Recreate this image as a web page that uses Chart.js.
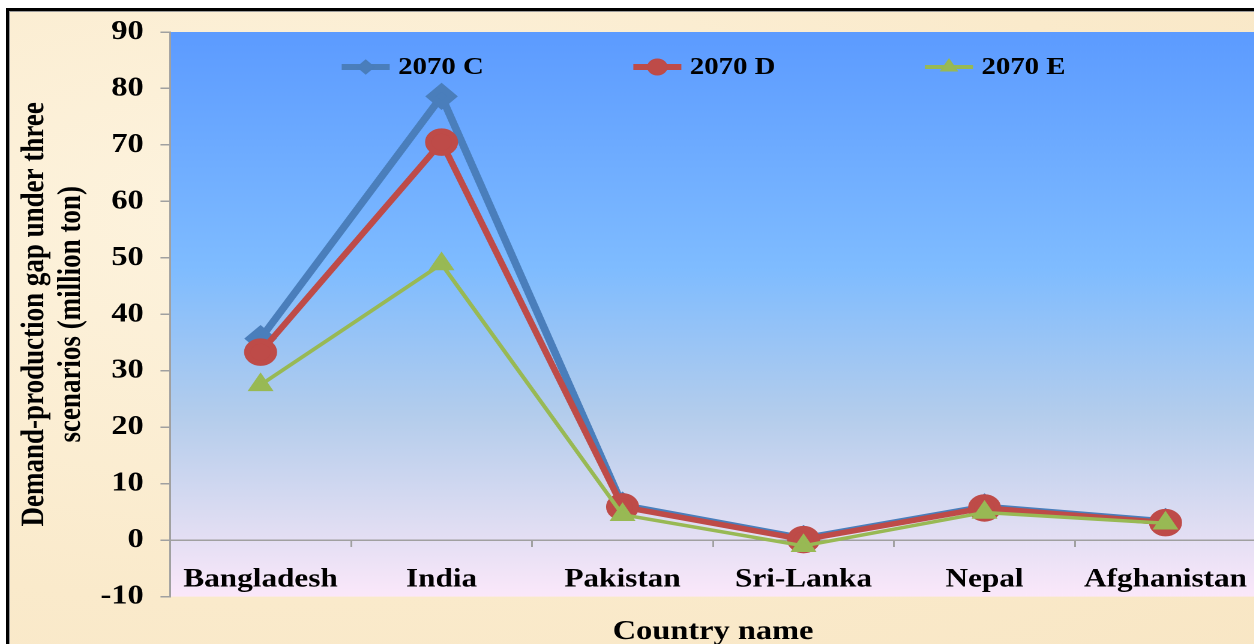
<!DOCTYPE html>
<html>
<head>
<meta charset="utf-8">
<script src="https://cdn.jsdelivr.net/npm/chart.js@4.4.0/dist/chart.umd.min.js"></script>
<style>
  html, body { margin: 0; padding: 0; background: #fff; overflow: hidden; width: 1254px; height: 644px; }
  .frame {
    position: absolute; left: 6px; top: 8px; width: 1280px; height: 660px;
    border-top: 3px solid #000; border-left: 3px solid #000;
    box-shadow: inset 1px 1px 0 #9a9a9a;
    background: radial-gradient(ellipse at 20% 30%, #fdf3de 0%, #faeacb 60%, #f8e6c4 100%);
  }
  #c { position: absolute; left: 9px; top: 11px; }
</style>
</head>
<body>
<div class="frame"></div>
<!-- the source picture is stretched sideways ~1.2x, so the canvas is too (inline style keeps Chart.js from resetting it) -->
<canvas id="c" width="1039" height="650" style="width:1247px;height:650px"></canvas>
<script>
const countries = ['Bangladesh', 'India', 'Pakistan', 'Sri-Lanka', 'Nepal', 'Afghanistan'];
const gap2070C = [35.7, 78.6, 6.2, 0.3, 5.9, 3.3];
const gap2070D = [33.3, 70.5, 5.9, 0.1, 5.7, 3.1];
const gap2070E = [27.5, 48.9, 4.5, -1.0, 4.9, 3.0];
const yTicks = { min: -10, max: 90, step: 10 };

const serif = "'Liberation Serif', 'Times New Roman', serif";

// plot area gradient (blue at top fading to pale pink)
const plotBg = {
  id: 'plotBg',
  beforeDraw(chart) {
    const { ctx, chartArea: a } = chart;
    const g = ctx.createLinearGradient(0, a.top, 0, a.bottom);
    g.addColorStop(0, '#5c9bff');
    g.addColorStop(0.42, '#7fbcff');
    g.addColorStop(0.68, '#b4cdec');
    g.addColorStop(0.86, '#dcdcf2');
    g.addColorStop(1, '#fbe8fa');
    ctx.save();
    ctx.fillStyle = g;
    ctx.fillRect(a.left, a.top, a.right - a.left, a.bottom - a.top);
    ctx.restore();
  }
};

// legend sits inside the plot, spread across the top
const insideLegend = {
  id: 'insideLegend',
  afterDraw(chart) {
    const { ctx, chartArea: a } = chart;
    const y = a.top + 35;
    chart.data.datasets.forEach((ds, i) => {
      const x = a.left + 143 + i * 243;
      ctx.save();
      ctx.strokeStyle = ds.borderColor;
      ctx.fillStyle = ds.borderColor;
      ctx.lineWidth = ds.legendWidth;
      ctx.beginPath();
      ctx.moveTo(x, y);
      ctx.lineTo(x + 40, y);
      ctx.stroke();
      ctx.lineWidth = 1;
      Chart.helpers.drawPoint(ctx, { pointStyle: ds.pointStyle, radius: ds.legendRadius, rotation: 0, borderWidth: 1 }, x + 20, y);
      ctx.fillStyle = '#000';
      ctx.font = 'bold 24px ' + serif;
      ctx.textBaseline = 'middle';
      ctx.fillText(ds.label, x + 47, y + 1);
      ctx.restore();
    });
  }
};

// no extra room for label overhang: the plot runs to the edges
const noOverhang = s => { s.paddingTop = 0; s.paddingBottom = 0; s.paddingLeft = 0; s.paddingRight = 0; };

new Chart(document.getElementById('c'), {
  type: 'line',
  data: {
    labels: countries,
    datasets: [
      { label: '2070 C', data: gap2070C, borderColor: '#4a7ebb', backgroundColor: '#4a7ebb',
        borderWidth: 6.5, pointStyle: 'rectRot', pointRadius: 9, order: 3, legendWidth: 6, legendRadius: 7 },
      { label: '2070 D', data: gap2070D, borderColor: '#be4b48', backgroundColor: '#be4b48',
        borderWidth: 5.5, pointStyle: 'circle', pointRadius: 11, order: 2, legendWidth: 6, legendRadius: 8 },
      { label: '2070 E', data: gap2070E, borderColor: '#98b954', backgroundColor: '#98b954',
        borderWidth: 3.5, pointStyle: 'triangle', pointRadius: 9, order: 1, legendWidth: 4, legendRadius: 8 }
    ]
  },
  options: {
    responsive: false,
    animation: false,
    devicePixelRatio: 2,
    layout: { autoPadding: false, padding: { top: 21, left: 0, right: 0, bottom: 0 } },
    elements: { line: { tension: 0 }, point: { borderWidth: 1, hoverRadius: 9 } },
    scales: {
      x: {
        position: { y: 0 },
        offset: true,
        afterFit: noOverhang,
        grid: { offset: true, drawOnChartArea: false, drawTicks: true, tickLength: 6, color: '#a0a0a0', lineWidth: 1.5 },
        border: { color: '#a0a0a0', width: 1.5 },
        ticks: { color: '#000', padding: 18, maxRotation: 0, autoSkip: false, font: { family: serif, size: 26, weight: 'bold' } }
      },
      y: {
        min: yTicks.min,
        max: yTicks.max,
        afterFit: s => { noOverhang(s); s.width = 134.2; },
        grid: { drawOnChartArea: false, drawTicks: true, tickLength: 8, color: '#a0a0a0', lineWidth: 1.5 },
        border: { color: '#a0a0a0', width: 1.5 },
        ticks: { stepSize: yTicks.step, color: '#000', padding: 14, font: { family: serif, size: 27, weight: 'bold' } },
        title: {
          display: true,
          text: ['Demand-production gap under three', 'scenarios (million ton)'],
          color: '#000',
          padding: { top: 6, bottom: 0 },
          font: { family: serif, size: 27, weight: 'bold', lineHeight: 1.14 }
        }
      }
    },
    plugins: {
      legend: { display: false },
      tooltip: { enabled: false },
      title: {
        display: true,
        position: 'bottom',
        fullSize: false,
        text: 'Country name',
        color: '#000',
        padding: { top: 19, bottom: 13 },
        font: { family: serif, size: 27, weight: 'bold', lineHeight: 1.2 }
      }
    }
  },
  plugins: [plotBg, insideLegend]
});
</script>
</body>
</html>
